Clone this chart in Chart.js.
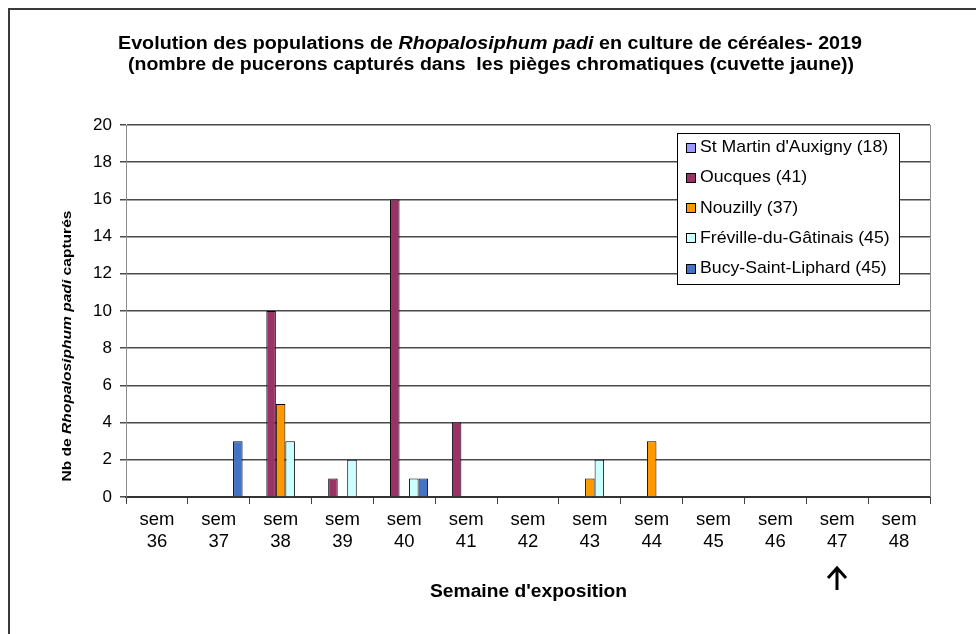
<!DOCTYPE html>
<html lang="fr">
<head>
  <meta charset="UTF-8">
  <title>Rhopalosiphum padi - 2019</title>
  <script src="https://cdn.jsdelivr.net/npm/chart.js"></script>
  <style>
    html, body { margin: 0; padding: 0; background: #fff; overflow: hidden; }
    #frame {
      position: absolute; left: 8px; top: 8px; width: 1200px; height: 900px;
      border-left: 2px solid #3a3a3a; border-top: 2px solid #3a3a3a;
    }
    #chart { position: absolute; left: 0; top: 0; }
  </style>
</head>
<body>
  <div id="frame"></div>
  <canvas id="chart" width="976" height="634"></canvas>

  <script>
    // weeks of exposure
    const weeks = ["36", "37", "38", "39", "40", "41", "42", "43", "44", "45", "46", "47", "48"];

    // aphids caught per site
    const stMartin = [0, 0, 0, 0, 0, 0, 0, 0, 0, 0, 0, 0, 0];
    const oucques  = [0, 0, 10, 1, 16, 4, 0, 0, 0, 0, 0, 0, 0];
    const nouzilly = [0, 0, 5, 0, 0, 0, 0, 1, 3, 0, 0, 0, 0];
    const freville = [0, 0, 3, 2, 1, 0, 0, 2, 0, 0, 0, 0, 0];
    const bucy     = [0, 3, 0, 0, 1, 0, 0, 0, 0, 0, 0, 0, 0];

    const siteNames = ["St Martin d'Auxigny (18)", "Oucques (41)", "Nouzilly (37)",
                       "Fréville-du-Gâtinais (45)", "Bucy-Saint-Liphard (45)"];
    const siteColors = ["#9999FF", "#993366", "#FF9900", "#CCFFFF", "#4472C4"];
    const markedWeek = "47";   // week with the arrow

    const FONT = "'Liberation Sans', Arial, sans-serif";

    // draws a line made of pieces in different styles, centred on cx,
    // squeezed/stretched sideways to `width` when given
    function drawMixed(ctx, parts, cx, y, width) {
      let total = 0;
      parts.forEach(p => { ctx.font = p[0]; total += ctx.measureText(p[1]).width; });
      const w = width || total;
      ctx.save();
      ctx.translate(cx - w / 2, y);
      ctx.scale(w / total, 1);
      let x = 0;
      parts.forEach(p => {
        ctx.font = p[0];
        ctx.fillText(p[1], x, 0);
        x += ctx.measureText(p[1]).width;
      });
      ctx.restore();
    }

    const decorations = {
      id: "decorations",
      afterDraw(chart) {
        const ctx = chart.ctx;
        const area = chart.chartArea;
        const xs = chart.scales.x;
        ctx.save();
        ctx.fillStyle = "#000";
        ctx.textBaseline = "middle";
        ctx.textAlign = "left";

        // title
        const b = "bold 18px " + FONT, bi = "italic bold 18px " + FONT;
        drawMixed(ctx, [[b, "Evolution des populations de "], [bi, "Rhopalosiphum padi"],
                        [b, " en culture de céréales- 2019"]], 490, 44, 744);
        drawMixed(ctx, [[b, "(nombre de pucerons capturés dans  les pièges chromatiques (cuvette jaune))"]], 491, 65, 726);

        // y axis title
        ctx.save();
        ctx.translate(67, 346);
        ctx.rotate(-Math.PI / 2);
        const yb = "bold 13px " + FONT, ybi = "italic bold 13px " + FONT;
        drawMixed(ctx, [[yb, "Nb de "], [ybi, "Rhopalosiphum padi"], [yb, " capturés"]], 0, 0, 271);
        ctx.restore();

        // x axis title
        drawMixed(ctx, [["bold 18px " + FONT, "Semaine d'exposition"]], 528.5, 592, 197);

        // right border of the plot
        ctx.strokeStyle = "#8c8c8c";
        ctx.lineWidth = 1;
        ctx.beginPath();
        ctx.moveTo(Math.round(area.right) + 0.5, area.top);
        ctx.lineTo(Math.round(area.right) + 0.5, area.bottom);
        ctx.stroke();

        // legend box
        const lx = 677, ly = 133, lw = 222, lh = 151;
        ctx.fillStyle = "#fff";
        ctx.fillRect(lx, ly, lw, lh);
        ctx.strokeStyle = "#000";
        ctx.strokeRect(lx + 0.5, ly + 0.5, lw, lh);
        chart.data.datasets.forEach((ds, i) => {
          const cy = ly + 14.5 + i * 30.3;
          ctx.fillStyle = ds.backgroundColor;
          ctx.fillRect(686, Math.round(cy - 5), 10, 10);
          ctx.strokeStyle = "#000";
          ctx.strokeRect(686.5, Math.round(cy - 5) + 0.5, 9, 9);
          ctx.fillStyle = "#000";
          ctx.font = "17px " + FONT;
          const tw = ctx.measureText(ds.label).width;
          drawMixed(ctx, [["17px " + FONT, ds.label]], 700 + tw * 1.04 / 2, cy, tw * 1.04);
        });

        // arrow under the marked week
        const ax = Math.round(xs.getPixelForValue(weeks.indexOf(markedWeek)));
        ctx.strokeStyle = "#000";
        ctx.lineWidth = 3;
        ctx.beginPath();
        ctx.moveTo(ax, 590);
        ctx.lineTo(ax, 568);
        ctx.moveTo(ax - 9, 578);
        ctx.lineTo(ax, 568);
        ctx.lineTo(ax + 9, 578);
        ctx.stroke();
        ctx.restore();
      }
    };

    const series = [stMartin, oucques, nouzilly, freville, bucy];

    new Chart(document.getElementById("chart"), {
      type: "bar",
      data: {
        labels: weeks.map(w => ["sem", w]),
        datasets: series.map((values, i) => ({
          label: siteNames[i],
          data: values,
          backgroundColor: siteColors[i],
          borderColor: "#000",
          borderWidth: 1,
          categoryPercentage: 0.77,
          barPercentage: 1
        }))
      },
      options: {
        responsive: false,
        animation: false,
        layout: { padding: { top: 125, left: 0, right: 46, bottom: 0 } },
        plugins: {
          legend: { display: false },
          title: { display: false },
          tooltip: { enabled: false }
        },
        scales: {
          x: {
            afterFit(scale) { scale.height = 137; },
            grid: { offset: true, drawOnChartArea: false, tickLength: 7, color: "#444", lineWidth: 1 },
            border: { color: "#333", width: 2 },
            ticks: {
              color: "#000",
              padding: 5,
              maxRotation: 0,
              font: { family: FONT, size: 18.5, lineHeight: 1.2 }
            }
          },
          y: {
            min: 0,
            max: 20,
            afterFit(scale) { scale.width = 126; },
            grid: { color: "#4a4a4a", lineWidth: 1.5, tickLength: 6 },
            border: { color: "#8c8c8c", width: 1 },
            ticks: {
              stepSize: 2,
              color: "#000",
              padding: 8,
              font: { family: FONT, size: 17 }
            }
          }
        }
      },
      plugins: [decorations]
    });
  </script>
</body>
</html>
